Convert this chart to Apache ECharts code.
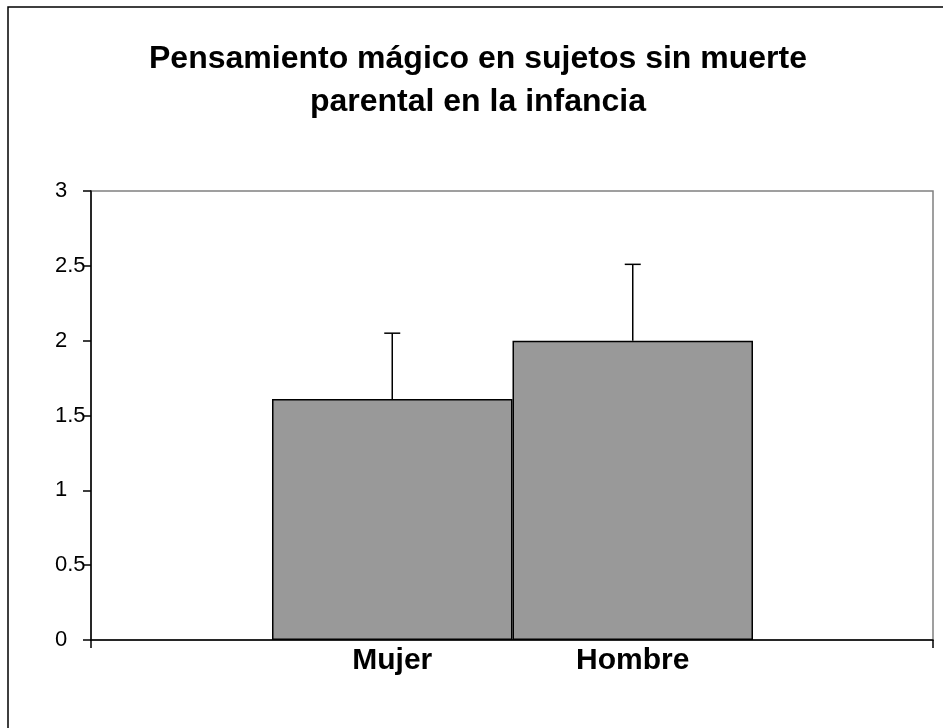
<!DOCTYPE html>
<html>
<head>
<meta charset="utf-8">
<title>Pensamiento mágico</title>
<script src="https://cdn.jsdelivr.net/npm/echarts@6/dist/echarts.min.js"></script>
<style>
  html, body { margin: 0; padding: 0; background: #fff; }
  #chart { width: 943px; height: 728px; }
</style>
</head>
<body>
<div id="chart"></div>
<script>
// data
const categories = ["Mujer", "Hombre"];
const means = [1.61, 2.0];
const errors = [0.44, 0.51];
const yTicks = [0, 0.5, 1, 1.5, 2, 2.5, 3];

const chart = echarts.init(document.getElementById("chart"));
const font = "Liberation Sans, Arial, sans-serif";

const option = {
  backgroundColor: "#fff",
  animation: false,
  title: {
    text: "Pensamiento mágico en sujetos sin muerte\nparental en la infancia",
    left: 473,
    textAlign: "center",
    top: 33,
    textStyle: {
      fontFamily: font,
      fontWeight: "bold",
      fontSize: 32,
      lineHeight: 43,
      color: "#000",
    },
  },
  graphic: [
    {
      type: "rect",
      shape: { x: 8, y: 7, width: 960, height: 760 },
      style: { fill: null, stroke: "#000", lineWidth: 1.5 },
      silent: true,
    },
  ],
  grid: [
    // frame grid: full plot area with y axis
    { left: 91, right: 10, top: 191, bottom: 88, show: true, borderColor: "#808080", borderWidth: 1.5, backgroundColor: "transparent" },
    // bar grid: only where the bars sit
    { left: 272, right: 190, top: 191, bottom: 88 },
  ],
  xAxis: [
    {
      gridIndex: 0,
      type: "value",
      min: 0,
      max: 1,
      interval: 1,
      axisLine: { show: true, lineStyle: { color: "#000", width: 1.5 } },
      axisTick: { show: true, length: 8, lineStyle: { color: "#000", width: 1.5 } },
      axisLabel: { show: false },
      splitLine: { show: false },
    },
    {
      gridIndex: 1,
      type: "category",
      data: categories,
      axisLine: { show: false },
      axisTick: { show: false },
      axisLabel: {
        margin: 6,
        fontFamily: font,
        fontWeight: "bold",
        fontSize: 30,
        color: "#000",
      },
    },
  ],
  yAxis: [
    {
      gridIndex: 0,
      type: "value",
      min: yTicks[0],
      max: yTicks[yTicks.length - 1],
      interval: yTicks[1] - yTicks[0],
      axisLine: { show: true, lineStyle: { color: "#000", width: 1.5 } },
      axisTick: { show: true, length: 8, lineStyle: { color: "#000", width: 1.5 } },
      axisLabel: {
        margin: 36,
        align: "left",
        fontFamily: font,
        fontSize: 22,
        color: "#000",
      },
      splitLine: { show: false },
    },
    {
      gridIndex: 1,
      type: "value",
      min: 0,
      max: 3,
      show: false,
      splitLine: { show: false },
    },
  ],
  series: [
    {
      type: "bar",
      xAxisIndex: 1,
      yAxisIndex: 1,
      data: means,
      barWidth: "100%",
      barCategoryGap: 0,
      itemStyle: { color: "#999999", borderColor: "#000", borderWidth: 1.5 },
      z: 2,
    },
    {
      type: "custom",
      xAxisIndex: 1,
      yAxisIndex: 1,
      data: means.map((m, i) => [i, m, m + errors[i]]),
      z: 3,
      renderItem: function (params, api) {
        const base = api.coord([api.value(0), api.value(1)]);
        const top = api.coord([api.value(0), api.value(2)]);
        const style = { stroke: "#000", lineWidth: 1.5 };
        return {
          type: "group",
          children: [
            { type: "line", shape: { x1: base[0], y1: base[1], x2: top[0], y2: top[1] }, style },
            { type: "line", shape: { x1: top[0] - 8, y1: top[1], x2: top[0] + 8, y2: top[1] }, style },
          ],
        };
      },
    },
  ],
};

chart.setOption(option);
</script>
</body>
</html>
